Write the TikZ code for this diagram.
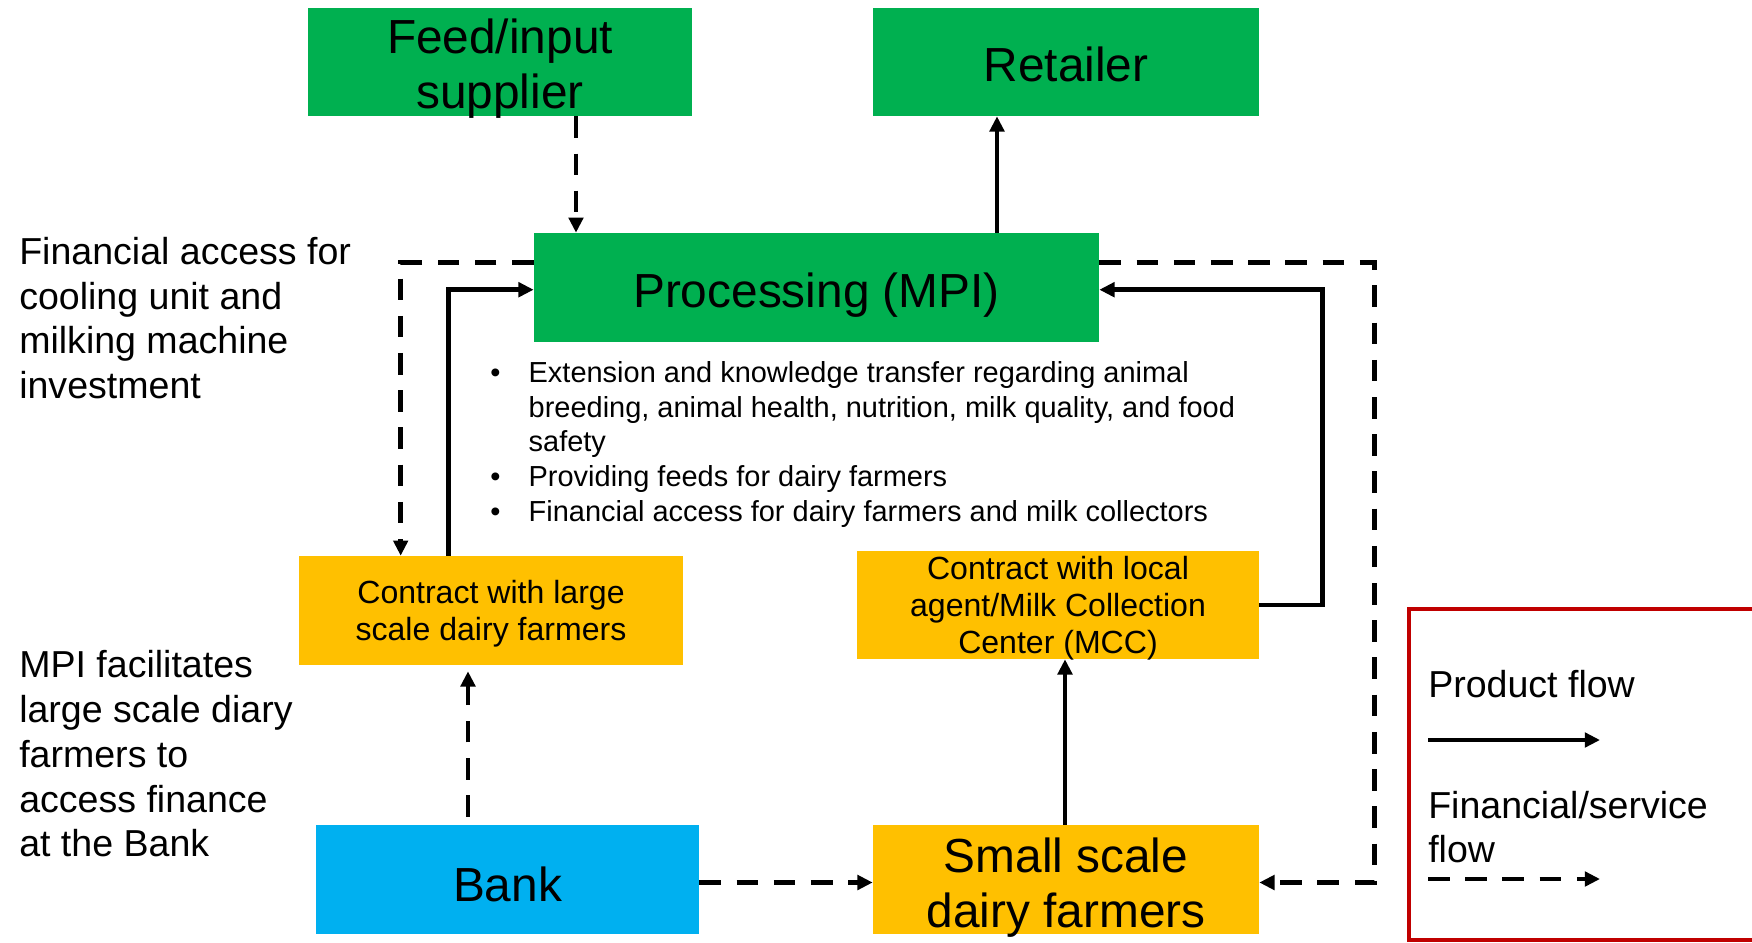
\documentclass[tikz,border=0pt]{standalone}
\usepackage{fontspec}
\setmainfont{Liberation Sans}
\usetikzlibrary{arrows.meta}
\usetikzlibrary{calc}
\definecolor{gr}{HTML}{00B050}
\definecolor{ye}{HTML}{FFC000}
\definecolor{bl}{HTML}{00B0F0}
\definecolor{re}{HTML}{C00000}

\begin{document}
\begin{tikzpicture}[x=0.025cm, y=-0.025cm,
  blk/.style={inner sep=0, align=center, font=\fontsize{34}{39}\selectfont},
  sub/.style={inner sep=0, align=center, font=\fontsize{22.8}{26.3}\selectfont},
  note/.style={inner sep=0, anchor=west, align=left, font=\fontsize{26.7}{31.8}\selectfont},
  prod/.style={line width=3.2pt, -{Triangle[length=0.38cm,width=0.36cm]}},
  fin/.style={prod, dash pattern=on 0.54cm off 0.39cm}]
  \useasboundingbox (0,0) rectangle (1752,942);

  % chain boxes, text set a little low as in the slide
  \node[fill=gr, minimum width=9.6cm, minimum height=2.7cm,
    label={[name=feed-t, blk, yshift=-0.175cm]center:{Feed/input\\supplier}}] (feed) at (500,62) {};
  \node[fill=gr, minimum width=9.65cm, minimum height=2.7cm,
    label={[name=retail-t, blk, yshift=-0.07cm]center:{Retailer}}] (retail) at (1066,62) {};
  \node[fill=gr, minimum width=14.125cm, minimum height=2.725cm,
    label={[name=mpi-t, blk, yshift=-0.2cm]center:{Processing (MPI)}}] (mpi) at (816.5,287.5) {};
  \node[fill=ye, minimum width=9.6cm, minimum height=2.725cm,
    label={[name=large-t, sub, yshift=-0.09cm]center:{Contract with large\\scale dairy farmers}}] (large) at (491,610.5) {};
  \node[fill=ye, minimum width=10.05cm, minimum height=2.7cm,
    label={[name=mcc-t, sub, yshift=-0.09cm]center:{Contract with local\\agent/Milk Collection\\Center (MCC)}}] (mcc) at (1058,605) {};
  \node[fill=bl, minimum width=9.575cm, minimum height=2.725cm,
    label={[name=bank-t, blk, yshift=-0.12cm]center:{Bank}}] (bank) at (507.5,879.5) {};
  \node[fill=ye, minimum width=9.65cm, minimum height=2.725cm,
    label={[name=small-t, blk, yshift=-0.2cm]center:{Small scale\\dairy farmers}}] (small) at (1066,879.5) {};

  % services of the processor
  \node[inner sep=0, anchor=west, font=\fontsize{20.6}{24.6}\selectfont] (svc) at (490,445) {\begin{tabular}{@{}p{0.96cm}@{}l@{}}
    \textbullet & Extension and knowledge transfer regarding animal\\
                & breeding, animal health, nutrition, milk quality, and food\\
                & safety\\
    \textbullet & Providing feeds for dairy farmers\\
    \textbullet & Financial access for dairy farmers and milk collectors
  \end{tabular}};

  % side notes
  \node[note] (fa) at (19,318) {Financial access for\\cooling unit and\\milking machine\\investment};
  \node[note] (fb) at (19,754) {MPI facilitates\\large scale diary\\farmers to\\access finance\\at the Bank};

  % flows
  \draw[fin] ($(feed.south)+(76,0)$) coordinate (f1) -- (f1 |- mpi.north);
  \draw[prod] ($(mpi.north)+(180.5,0)$) coordinate (r1) -- (r1 |- retail.south);
  \draw[fin] ($(mpi.north west)+(0,30)$) -| ($(large.north west)+(102,0)$);
  \draw[prod] ($(large.north west)+(150,0)$) |- ($(mpi.north west)+(0,57)$);
  \draw[prod] (mcc.east) -- ++(63,0) |- ($(mpi.north east)+(0,57)$);
  \draw[fin] ($(mpi.north east)+(0,30)$) -- ++(275,0) |- ($(small.east)+(0,3)$);
  \draw[prod] ($(small.north)+(-1,0)$) coordinate (s1) -- (s1 |- mcc.south);
  \draw[fin] ($(bank.east)+(0,3)$) -- ($(small.west)+(0,3)$);
  \draw[fin] ($(bank.north)+(-39.5,-8)$) coordinate (b1) -- ($(b1 |- large.south)+(0,6)$);

  % legend
  \draw[re, line width=3.5pt] (1409,609) rectangle (1800,940);
  \node[note] (pf) at (1428,684) {Product flow};
  \node[note] (ff) at (1428,827) {Financial/service\\flow};
  \coordinate (p1) at (1428,740);
  \coordinate (p2) at (1600,740);
  \coordinate (q1) at (1428,879);
  \coordinate (q2) at (1600,879);
  \draw[prod] (p1) -- (p2);
  \draw[fin] (q1) -- (q2);
\end{tikzpicture}
\end{document}
